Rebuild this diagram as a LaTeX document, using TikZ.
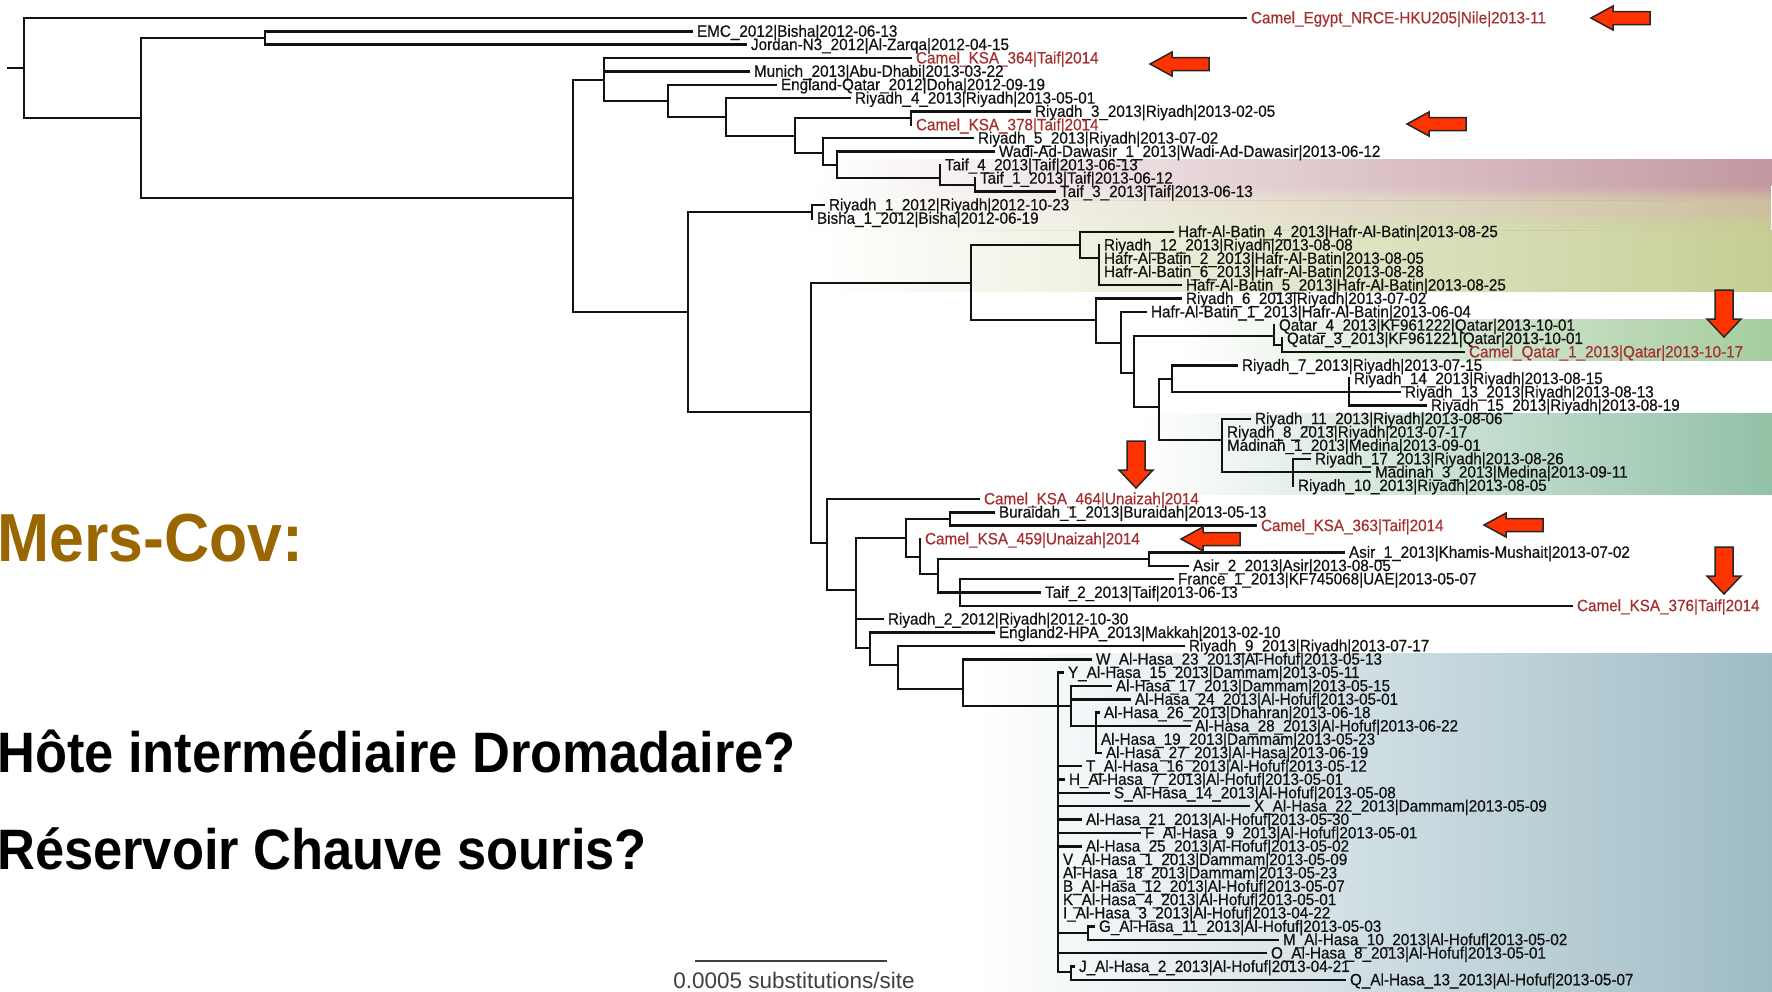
\documentclass[tikz,border=0pt]{standalone}
\usepackage{fontspec}
\setmainfont{Liberation Sans}
\newfontfamily\titlefont[FakeStretch=0.92]{Liberation Sans}
\newfontfamily\tipfont[FakeStretch=0.93,FakeBold=0.6]{Liberation Sans}
\usetikzlibrary{fadings}
\definecolor{labelInk}{RGB}{18,18,18}
\definecolor{camelRed}{RGB}{165,48,48}
\definecolor{arrowRed}{RGB}{255,51,0}
\definecolor{mersGold}{RGB}{153,102,0}
\definecolor{bandRose}{RGB}{195,152,160}
\definecolor{bandBeige}{RGB}{204,190,158}
\definecolor{bandKhaki}{RGB}{198,206,148}
\definecolor{bandQatar}{RGB}{165,204,158}
\definecolor{bandMedina}{RGB}{146,193,166}
\definecolor{bandHasa}{RGB}{158,188,198}
\colorlet{barInk}{black!75}
\NewDocumentCommand\Leaf{O{}mmmm}%
{%
\node[leaf,#1] (#2) at (#3,#4) {#5};%
}
\NewDocumentCommand\LeftArrow{mm}%
{%
\draw[redarrow] (#1,#2) -- ++(22,-12) -- ++(0,5.5) -- ++(37,0) -- ++(0,13) -- ++(-37,0) -- ++(0,5.5) -- cycle;%
}
\NewDocumentCommand\DownArrow{mm}%
{%
\draw[redarrow] (#1,#2) -- ++(-17,-18) -- ++(8,0) -- ++(0,-29) -- ++(18,0) -- ++(0,29) -- ++(8,0) -- cycle;%
}
\tikzset{
  branch/.style={line width=2.5pt,labelInk,line join=miter,line cap=rect},
  leaf/.style={anchor=west,inner sep=0pt,outer xsep=5pt,outer ysep=0pt,text=labelInk,
    font=\tipfont\fontsize{16.4}{16.4}\selectfont,text height=12pt,text depth=1.3pt},
  camel/.style={text=camelRed},
  band/.style={path fading=west},
  redarrow/.style={fill=arrowRed,draw=black!85,line width=1.5pt,line join=miter},
  title/.style={anchor=base west,inner sep=0pt,font=\titlefont\bfseries\fontsize{57}{57}\selectfont}
}

\begin{document}
\begin{tikzpicture}[x=1pt,y=-1pt]
\useasboundingbox (0,0) rectangle (1772,991);
% bands
\fill[band,bandRose] (820,159) rectangle (1772,186);
\shade[band,top color=bandRose,bottom color=bandBeige] (810,186) rectangle (1772,200);
\fill[band,bandBeige] (800,200) rectangle (1772,212);
\shade[band,top color=bandBeige,bottom color=bandKhaki] (800,212) rectangle (1772,230);
\fill[band,bandKhaki] (820,230) rectangle (1772,292);
\shade[left color=white,right color=bandQatar] (1180,319) rectangle (1772,360);
\shade[left color=white,right color=bandMedina] (1140,413) rectangle (1772,494);
\shade[left color=white,right color=bandHasa] (980,653) rectangle (1772,991);

% leaves
\Leaf[camel]{egypt}{1246}{18.0}{Camel\_Egypt\_NRCE-HKU205|Nile|2013-11}
\Leaf{emc}{692}{31.4}{EMC\_2012|Bisha|2012-06-13}
\Leaf{jordan}{746}{44.7}{Jordan-N3\_2012|Al-Zarqa|2012-04-15}
\Leaf[camel]{ksa364}{911}{58.1}{Camel\_KSA\_364|Taif|2014}
\Leaf{munich}{749}{71.4}{Munich\_2013|Abu-Dhabi|2013-03-22}
\Leaf{engqatar}{776}{84.8}{England-Qatar\_2012|Doha|2012-09-19}
\Leaf{riyadh4}{850}{98.2}{Riyadh\_4\_2013|Riyadh|2013-05-01}
\Leaf{riyadh3}{1030}{111.5}{Riyadh\_3\_2013|Riyadh|2013-02-05}
\Leaf[camel]{ksa378}{911}{124.9}{Camel\_KSA\_378|Taif|2014}
\Leaf{riyadh5}{973}{138.2}{Riyadh\_5\_2013|Riyadh|2013-07-02}
\Leaf{wadi}{994}{151.6}{Wadi-Ad-Dawasir\_1\_2013|Wadi-Ad-Dawasir|2013-06-12}
\Leaf{taif4}{940}{165.0}{Taif\_4\_2013|Taif|2013-06-13}
\Leaf{taif1}{975}{178.3}{Taif\_1\_2013|Taif|2013-06-12}
\Leaf{taif3}{1055}{191.7}{Taif\_3\_2013|Taif|2013-06-13}
\Leaf{riyadh1}{824}{205.0}{Riyadh\_1\_2012|Riyadh|2012-10-23}
\Leaf{bisha1}{812}{218.4}{Bisha\_1\_2012|Bisha|2012-06-19}
\Leaf{hafr4}{1173}{231.8}{Hafr-Al-Batin\_4\_2013|Hafr-Al-Batin|2013-08-25}
\Leaf{riyadh12}{1099}{245.1}{Riyadh\_12\_2013|Riyadh|2013-08-08}
\Leaf{hafr2}{1099}{258.5}{Hafr-Al-Batin\_2\_2013|Hafr-Al-Batin|2013-08-05}
\Leaf{hafr6}{1099}{271.8}{Hafr-Al-Batin\_6\_2013|Hafr-Al-Batin|2013-08-28}
\Leaf{hafr5}{1181}{285.2}{Hafr-Al-Batin\_5\_2013|Hafr-Al-Batin|2013-08-25}
\Leaf{riyadh6}{1181}{298.6}{Riyadh\_6\_2013|Riyadh|2013-07-02}
\Leaf{hafr1}{1146}{311.9}{Hafr-Al-Batin\_1\_2013|Hafr-Al-Batin|2013-06-04}
\Leaf{qatar4}{1274}{325.3}{Qatar\_4\_2013|KF961222|Qatar|2013-10-01}
\Leaf{qatar3}{1282}{338.6}{Qatar\_3\_2013|KF961221|Qatar|2013-10-01}
\Leaf[camel]{camelqatar}{1464}{352.0}{Camel\_Qatar\_1\_2013|Qatar|2013-10-17}
\Leaf{riyadh7}{1237}{365.4}{Riyadh\_7\_2013|Riyadh|2013-07-15}
\Leaf{riyadh14}{1349}{378.7}{Riyadh\_14\_2013|Riyadh|2013-08-15}
\Leaf{riyadh13}{1400}{392.1}{Riyadh\_13\_2013|Riyadh|2013-08-13}
\Leaf{riyadh15}{1426}{405.4}{Riyadh\_15\_2013|Riyadh|2013-08-19}
\Leaf{riyadh11}{1250}{418.8}{Riyadh\_11\_2013|Riyadh|2013-08-06}
\Leaf{riyadh8}{1222}{432.2}{Riyadh\_8\_2013|Riyadh|2013-07-17}
\Leaf{madinah1}{1222}{445.5}{Madinah\_1\_2013|Medina|2013-09-01}
\Leaf{riyadh17}{1310}{458.9}{Riyadh\_17\_2013|Riyadh|2013-08-26}
\Leaf{madinah3}{1370}{472.2}{Madinah\_3\_2013|Medina|2013-09-11}
\Leaf{riyadh10}{1293}{485.6}{Riyadh\_10\_2013|Riyadh|2013-08-05}
\Leaf[camel]{ksa464}{979}{499.0}{Camel\_KSA\_464|Unaizah|2014}
\Leaf{buraidah1}{994}{512.3}{Buraidah\_1\_2013|Buraidah|2013-05-13}
\Leaf[camel]{ksa363}{1256}{525.7}{Camel\_KSA\_363|Taif|2014}
\Leaf[camel]{ksa459}{920}{539.0}{Camel\_KSA\_459|Unaizah|2014}
\Leaf{asir1}{1344}{552.4}{Asir\_1\_2013|Khamis-Mushait|2013-07-02}
\Leaf{asir2}{1188}{565.8}{Asir\_2\_2013|Asir|2013-08-05}
\Leaf{france1}{1173}{579.1}{France\_1\_2013|KF745068|UAE|2013-05-07}
\Leaf{taif2}{1040}{592.5}{Taif\_2\_2013|Taif|2013-06-13}
\Leaf[camel]{ksa376}{1572}{605.8}{Camel\_KSA\_376|Taif|2014}
\Leaf{riyadh2}{883}{619.2}{Riyadh\_2\_2012|Riyadh|2012-10-30}
\Leaf{england2}{994}{632.6}{England2-HPA\_2013|Makkah|2013-02-10}
\Leaf{riyadh9}{1184}{645.9}{Riyadh\_9\_2013|Riyadh|2013-07-17}
\Leaf{hasaW23}{1091}{659.3}{W\_Al-Hasa\_23\_2013|Al-Hofuf|2013-05-13}
\Leaf{hasaY15}{1063}{672.6}{Y\_Al-Hasa\_15\_2013|Dammam|2013-05-11}
\Leaf{hasa17}{1111}{686.0}{Al-Hasa\_17\_2013|Dammam|2013-05-15}
\Leaf{hasa24}{1130}{699.4}{Al-Hasa\_24\_2013|Al-Hofuf|2013-05-01}
\Leaf{hasa26}{1099}{712.7}{Al-Hasa\_26\_2013|Dhahran|2013-06-18}
\Leaf{hasa28}{1190}{726.1}{Al-Hasa\_28\_2013|Al-Hofuf|2013-06-22}
\Leaf{hasa19}{1096}{739.4}{Al-Hasa\_19\_2013|Dammam|2013-05-23}
\Leaf{hasa27}{1101}{752.8}{Al-Hasa\_27\_2013|Al-Hasa|2013-06-19}
\Leaf{hasaT16}{1081}{766.2}{T\_Al-Hasa\_16\_2013|Al-Hofuf|2013-05-12}
\Leaf{hasaH7}{1064}{779.5}{H\_Al-Hasa\_7\_2013|Al-Hofuf|2013-05-01}
\Leaf{hasaS14}{1109}{792.9}{S\_Al-Hasa\_14\_2013|Al-Hofuf|2013-05-08}
\Leaf{hasaX22}{1249}{806.2}{X\_Al-Hasa\_22\_2013|Dammam|2013-05-09}
\Leaf{hasa21}{1081}{819.6}{Al-Hasa\_21\_2013|Al-Hofuf|2013-05-30}
\Leaf{hasaF9}{1140}{833.0}{F\_Al-Hasa\_9\_2013|Al-Hofuf|2013-05-01}
\Leaf{hasa25}{1081}{846.3}{Al-Hasa\_25\_2013|Al-Hofuf|2013-05-02}
\Leaf{hasaV1}{1058}{859.7}{V\_Al-Hasa\_1\_2013|Dammam|2013-05-09}
\Leaf{hasa18}{1058}{873.0}{Al-Hasa\_18\_2013|Dammam|2013-05-23}
\Leaf{hasaB12}{1058}{886.4}{B\_Al-Hasa\_12\_2013|Al-Hofuf|2013-05-07}
\Leaf{hasaK4}{1058}{899.8}{K\_Al-Hasa\_4\_2013|Al-Hofuf|2013-05-01}
\Leaf{hasaI3}{1058}{913.1}{I\_Al-Hasa\_3\_2013|Al-Hofuf|2013-04-22}
\Leaf{hasaG11}{1094}{926.5}{G\_Al-Hasa\_11\_2013|Al-Hofuf|2013-05-03}
\Leaf{hasaM10}{1278}{939.8}{M\_Al-Hasa\_10\_2013|Al-Hofuf|2013-05-02}
\Leaf{hasaO8}{1266}{953.2}{O\_Al-Hasa\_8\_2013|Al-Hofuf|2013-05-01}
\Leaf{hasaJ2}{1074}{966.6}{J\_Al-Hasa\_2\_2013|Al-Hofuf|2013-04-21}
\Leaf{hasaQ13}{1345}{979.9}{Q\_Al-Hasa\_13\_2013|Al-Hofuf|2013-05-07}

% inner nodes
\coordinate (stub) at (8,68);
\coordinate (nRoot) at (24,68);
\coordinate (nAll) at (141,118);
\coordinate (nOld) at (265,38);
\coordinate (nHuman) at (573,198);
\coordinate (nUpper) at (604,80);
\coordinate (nEngQ) at (668,101);
\coordinate (nRiy4) at (726,117);
\coordinate (nRiy3Wadi) at (795,136);
\coordinate (nRiy3) at (911,118);
\coordinate (nRiy5) at (823,153);
\coordinate (nWadi) at (837,165);
\coordinate (nTaif) at (940,178);
\coordinate (nTaif13) at (975,185);
\coordinate (nLower) at (688,312);
\coordinate (nRiy1) at (812,212);
\coordinate (nMain) at (811,412);
\coordinate (nHafr) at (971,283);
\coordinate (nHafr4) at (1080,245);
\coordinate (nHafr5) at (1099,258);
\coordinate (nRiy6) at (1096,320);
\coordinate (nHafr1) at (1121,343);
\coordinate (nQR) at (1134,373);
\coordinate (nQatar) at (1274,336);
\coordinate (nQatar3) at (1282,345);
\coordinate (nRM) at (1159,407);
\coordinate (nRiy7) at (1172,379);
\coordinate (nRiy14) at (1349,392.1);
\coordinate (nRiy11) at (1222,440);
\coordinate (nRiy17) at (1293,472.2);
\coordinate (nCamel) at (827,543);
\coordinate (nSouth) at (856,590);
\coordinate (nBur) at (906,538);
\coordinate (nBur1) at (950,519);
\coordinate (nKsa459) at (920,557);
\coordinate (nAsirFr) at (938,574);
\coordinate (nAsir) at (1149,559);
\coordinate (nFrance) at (960,592.5);
\coordinate (nEng2) at (870,648);
\coordinate (nRiy9) at (898,665);
\coordinate (nHasa) at (963,689);
\coordinate (nHasaCore) at (1058,706);
\coordinate (nHasa17) at (1071,706);
\coordinate (nHasa26) at (1096,726.1);
\coordinate (nHasa11) at (1088,933);
\coordinate (nHasa2) at (1071,972);

% branches
\draw[branch] (stub) -- (nRoot);
\foreach \kid in {egypt,nAll} \draw[branch] (nRoot) |- (\kid);
\foreach \kid in {nOld,nHuman} \draw[branch] (nAll) |- (\kid);
\foreach \kid in {emc,jordan} \draw[branch] (nOld) |- (\kid);
\foreach \kid in {nUpper,nLower} \draw[branch] (nHuman) |- (\kid);
\foreach \kid in {ksa364,munich,nEngQ} \draw[branch] (nUpper) |- (\kid);
\foreach \kid in {engqatar,nRiy4} \draw[branch] (nEngQ) |- (\kid);
\foreach \kid in {riyadh4,nRiy3Wadi} \draw[branch] (nRiy4) |- (\kid);
\foreach \kid in {nRiy3,nRiy5} \draw[branch] (nRiy3Wadi) |- (\kid);
\foreach \kid in {riyadh3,ksa378} \draw[branch] (nRiy3) |- (\kid);
\foreach \kid in {riyadh5,nWadi} \draw[branch] (nRiy5) |- (\kid);
\foreach \kid in {wadi,nTaif} \draw[branch] (nWadi) |- (\kid);
\foreach \kid in {taif4,nTaif13} \draw[branch] (nTaif) |- (\kid);
\foreach \kid in {taif1,taif3} \draw[branch] (nTaif13) |- (\kid);
\foreach \kid in {nRiy1,nMain} \draw[branch] (nLower) |- (\kid);
\foreach \kid in {riyadh1,bisha1} \draw[branch] (nRiy1) |- (\kid);
\foreach \kid in {nHafr,nCamel} \draw[branch] (nMain) |- (\kid);
\foreach \kid in {nHafr4,nRiy6} \draw[branch] (nHafr) |- (\kid);
\foreach \kid in {hafr4,nHafr5} \draw[branch] (nHafr4) |- (\kid);
\foreach \kid in {riyadh12,hafr2,hafr6,hafr5} \draw[branch] (nHafr5) |- (\kid);
\foreach \kid in {riyadh6,nHafr1} \draw[branch] (nRiy6) |- (\kid);
\foreach \kid in {hafr1,nQR} \draw[branch] (nHafr1) |- (\kid);
\foreach \kid in {nQatar,nRM} \draw[branch] (nQR) |- (\kid);
\foreach \kid in {qatar4,nQatar3} \draw[branch] (nQatar) |- (\kid);
\foreach \kid in {qatar3,camelqatar} \draw[branch] (nQatar3) |- (\kid);
\foreach \kid in {nRiy7,nRiy11} \draw[branch] (nRM) |- (\kid);
\foreach \kid in {riyadh7,nRiy14} \draw[branch] (nRiy7) |- (\kid);
\foreach \kid in {riyadh14,riyadh13,riyadh15} \draw[branch] (nRiy14) |- (\kid);
\foreach \kid in {riyadh11,riyadh8,madinah1,nRiy17} \draw[branch] (nRiy11) |- (\kid);
\foreach \kid in {riyadh17,madinah3,riyadh10} \draw[branch] (nRiy17) |- (\kid);
\foreach \kid in {ksa464,nSouth} \draw[branch] (nCamel) |- (\kid);
\foreach \kid in {nBur,riyadh2,nEng2} \draw[branch] (nSouth) |- (\kid);
\foreach \kid in {nBur1,nKsa459} \draw[branch] (nBur) |- (\kid);
\foreach \kid in {buraidah1,ksa363} \draw[branch] (nBur1) |- (\kid);
\foreach \kid in {ksa459,nAsirFr} \draw[branch] (nKsa459) |- (\kid);
\foreach \kid in {nAsir,nFrance} \draw[branch] (nAsirFr) |- (\kid);
\foreach \kid in {asir1,asir2} \draw[branch] (nAsir) |- (\kid);
\foreach \kid in {france1,taif2,ksa376} \draw[branch] (nFrance) |- (\kid);
\foreach \kid in {england2,nRiy9} \draw[branch] (nEng2) |- (\kid);
\foreach \kid in {riyadh9,nHasa} \draw[branch] (nRiy9) |- (\kid);
\foreach \kid in {hasaW23,nHasaCore} \draw[branch] (nHasa) |- (\kid);
\foreach \kid in {hasaY15,nHasa17,hasaT16,hasaH7,hasaS14,hasaX22,hasa21,hasaF9,hasa25,
  hasaV1,hasa18,hasaB12,hasaK4,hasaI3,nHasa11,hasaO8,nHasa2}
  \draw[branch] (nHasaCore) |- (\kid);
\foreach \kid in {hasa17,hasa24,hasa28,nHasa26} \draw[branch] (nHasa17) |- (\kid);
\foreach \kid in {hasa26,hasa19,hasa27} \draw[branch] (nHasa26) |- (\kid);
\foreach \kid in {hasaG11,hasaM10} \draw[branch] (nHasa11) |- (\kid);
\foreach \kid in {hasaJ2,hasaQ13} \draw[branch] (nHasa2) |- (\kid);

% scale bar
\coordinate (barL) at (695,961);
\coordinate (barR) at (887,961);
\draw[barInk,line width=1.4pt] (barL) -- (barR);
\node[anchor=base,inner sep=0pt,text=barInk,font=\fontsize{22.5}{22.5}\selectfont] (barText) at (794,988) {0.0005 substitutions/site};

% titles
\node[title,text=mersGold,font=\titlefont\bfseries\fontsize{68}{68}\selectfont] (mers) at (-3,561) {Mers-Cov:};
\node[title] (host) at (-3,772) {Hôte intermédiaire Dromadaire?};
\node[title] (bat) at (-3,869) {Réservoir Chauve souris?};

% arrows
\LeftArrow{1591}{18}
\LeftArrow{1150}{64}
\LeftArrow{1407}{124}
\LeftArrow{1484}{525}
\LeftArrow{1181}{539}
\DownArrow{1724}{337}
\DownArrow{1136}{488}
\DownArrow{1724}{594}
%\DownArrow{1724}{360}
\end{tikzpicture}
\end{document}
